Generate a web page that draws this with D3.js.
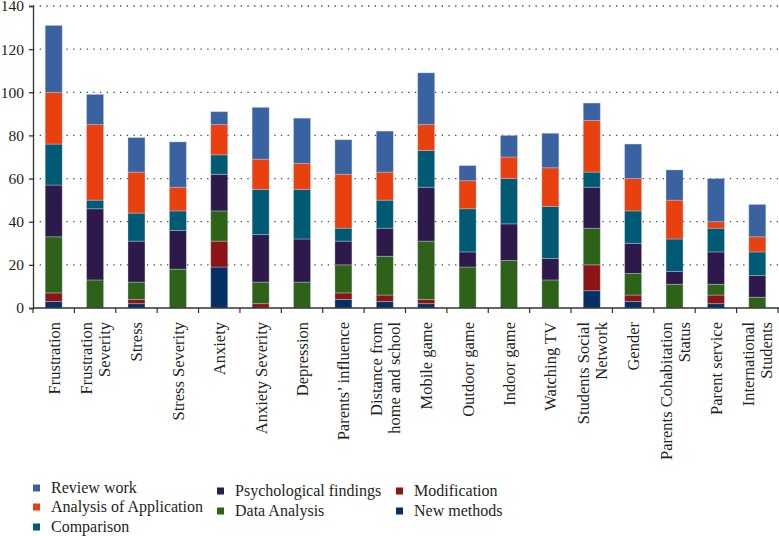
<!DOCTYPE html>
<html>
<head>
<meta charset="utf-8">
<script src="https://cdn.jsdelivr.net/npm/d3@7"></script>
<style>
  body { margin: 0; background: #fff; }
  text { font-family: "Liberation Serif", "Times New Roman", serif; fill: #231f20; }
</style>
</head>
<body>
<div class="chart"></div>
<script>
// categories along the x axis (line breaks as in the figure)
const categories = [
  ["Frustration"], ["Frustration", "Severity"], ["Stress"], ["Stress Severity"],
  ["Anxiety"], ["Anxiety Severity"], ["Depression"], ["Parents’ influence"],
  ["Distance from", "home and school"], ["Mobile game"], ["Outdoor game"],
  ["Indoor game"], ["Watching TV"], ["Students Social", "Network"], ["Gender"],
  ["Parents Cohabitation", "Status"], ["Parent service"], ["International", "Students"]
];

// series values, bottom of the stack first
const newMethods    = [3, 0, 2, 0, 19, 0, 0, 4, 3, 2, 0, 0, 0, 8, 3, 0, 2, 0];
const modification  = [4, 0, 2, 0, 12, 2, 0, 3, 3, 2, 0, 0, 0, 12, 3, 0, 4, 0];
const dataAnalysis  = [26, 13, 8, 18, 14, 10, 12, 13, 18, 27, 19, 22, 13, 17, 10, 11, 5, 5];
const psychological = [24, 33, 19, 18, 17, 22, 20, 11, 13, 25, 7, 17, 10, 19, 14, 6, 15, 10];
const comparison    = [19, 4, 13, 9, 9, 21, 23, 6, 13, 17, 20, 21, 24, 7, 15, 15, 11, 11];
const analysisApp   = [24, 35, 19, 11, 14, 14, 12, 25, 13, 12, 13, 10, 18, 24, 15, 18, 3, 7];
const reviewWork    = [31, 14, 16, 21, 6, 24, 21, 16, 19, 24, 7, 10, 16, 8, 16, 14, 20, 15];

const seriesNames = ["New methods", "Modification", "Data Analysis", "Psychological findings",
                     "Comparison", "Analysis of Application", "Review work"];
const seriesValues = [newMethods, modification, dataAnalysis, psychological,
                      comparison, analysisApp, reviewWork];
const seriesColors = ["#062f63", "#8b1414", "#2e6218", "#2e1a4a", "#005a73", "#e8410f", "#3a62a0"];

const yTicks = [0, 20, 40, 60, 80, 100, 120, 140];

// legend columns as laid out under the chart
const legendCols = [
  ["Review work", "Analysis of Application", "Comparison"],
  ["Psychological findings", "Data Analysis"],
  ["Modification", "New methods"]
];

const width = 779, height = 536;
const margin = {top: 6, left: 33, right: 1, bottom: 228};

const svg = d3.select(".chart").append("svg")
  .attr("width", width)
  .attr("height", height);

const x = d3.scaleBand()
  .domain(d3.range(categories.length))
  .range([margin.left, width - margin.right])
  .paddingInner(0.59)
  .paddingOuter(0.295);

const y = d3.scaleLinear()
  .domain([0, 140])
  .range([height - margin.bottom, margin.top]);

// dotted grid lines
svg.append("g")
  .selectAll("line")
  .data(yTicks.slice(1))
  .join("line")
    .attr("x1", margin.left)
    .attr("x2", width)
    .attr("y1", d => y(d))
    .attr("y2", d => y(d))
    .attr("stroke", "#444")
    .attr("stroke-width", 1.3)
    .attr("stroke-dasharray", "1.3,5.4");

// stacked bars
const table = categories.map((c, i) => {
  const row = {i: i};
  seriesNames.forEach((s, k) => row[s] = seriesValues[k][i]);
  return row;
});
const stacked = d3.stack().keys(seriesNames)(table);

svg.append("g")
  .selectAll("g")
  .data(stacked)
  .join("g")
    .attr("fill", (d, k) => seriesColors[k])
  .selectAll("rect")
  .data(d => d.filter(p => p[1] > p[0]))
  .join("rect")
    .attr("x", p => x(p.data.i))
    .attr("width", x.bandwidth())
    .attr("y", p => y(p[1]))
    .attr("height", p => y(p[0]) - y(p[1]))
    .attr("stroke", "#c8d6ea")
    .attr("stroke-opacity", 0.45)
    .attr("stroke-width", 0.8);

// y axis
const yAxis = svg.append("g")
  .attr("transform", `translate(${margin.left},0)`)
  .call(d3.axisLeft(y).tickValues(yTicks).tickSize(4).tickPadding(5));
yAxis.selectAll("text").style("font-size", "15.5px").attr("font-family", null);
yAxis.selectAll("line, path").attr("stroke", "#333").attr("stroke-width", 1.3);

// x axis: ticks at band edges
const edges = d3.range(categories.length + 1).map(i => margin.left + i * (width - margin.right - margin.left) / categories.length);
const xAxis = svg.append("g");
xAxis.append("line")
  .attr("x1", margin.left).attr("x2", width)
  .attr("y1", y(0)).attr("y2", y(0))
  .attr("stroke", "#333").attr("stroke-width", 1.3);
xAxis.selectAll(".tk")
  .data(edges)
  .join("line")
    .attr("class", "tk")
    .attr("x1", d => d).attr("x2", d => d)
    .attr("y1", y(0)).attr("y2", y(0) + 5)
    .attr("stroke", "#333").attr("stroke-width", 1.2);

// rotated category labels
const labels = xAxis.selectAll(".lbl")
  .data(categories)
  .join("text")
    .attr("class", "lbl")
    .attr("transform", (d, i) => `translate(${x(i) + x.bandwidth() / 2},${y(0) + 14}) rotate(-90)`)
    .attr("text-anchor", "end")
    .style("font-size", "16.5px");
labels.selectAll("tspan")
  .data(d => d.map((t, j) => ({t: t, j: j, n: d.length})))
  .join("tspan")
    .attr("x", 0)
    .attr("y", p => (p.j - (p.n - 1) / 2) * 18 + 6)
    .text(p => p.t);

// legend
const colorOf = d3.scaleOrdinal().domain(seriesNames).range(seriesColors);
const legendX = [33, 217, 396];
const legendY = [[488, 507, 527], [491, 511], [491, 511]];
legendCols.forEach((col, c) => {
  const g = svg.append("g");
  g.selectAll("rect")
    .data(col)
    .join("rect")
      .attr("x", legendX[c])
      .attr("y", (d, r) => legendY[c][r] - 3.5)
      .attr("width", 7)
      .attr("height", 7)
      .attr("fill", d => colorOf(d));
  g.selectAll("text")
    .data(col)
    .join("text")
      .attr("x", legendX[c] + 18)
      .attr("y", (d, r) => legendY[c][r] + 5)
      .style("font-size", "16px")
      .text(d => d);
});
</script>
</body>
</html>
